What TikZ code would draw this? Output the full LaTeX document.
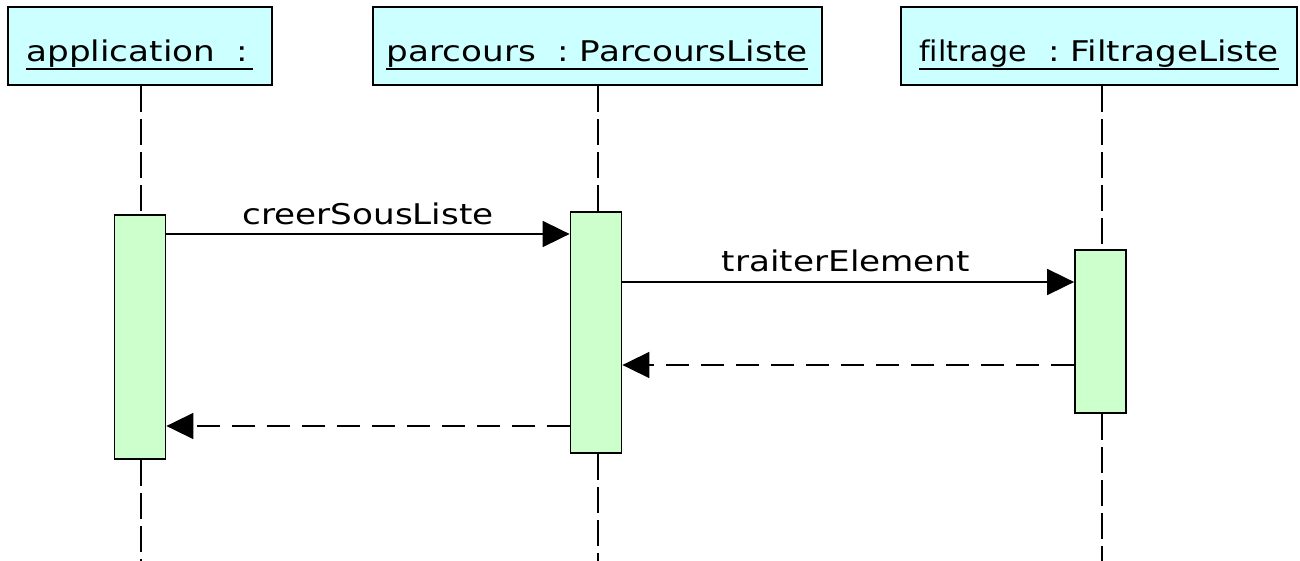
\documentclass[tikz,border=0pt]{standalone}
\usepackage{fontspec}
\setmainfont{DejaVu Sans}[FakeStretch=1.2, Ligatures=NoCommon]
\usetikzlibrary{arrows.meta}
\definecolor{objfill}{HTML}{CCFFFF}
\definecolor{actfill}{HTML}{CCFFCC}
\tikzset{
  objbox/.style={draw=black, fill=objfill, line width=1.8pt, minimum height=78pt, inner sep=0pt},
  objname/.style={anchor=base, inner sep=0pt, font=\fontsize{28.5}{34}\selectfont},
  uline/.style={line width=1.8pt},
  lifeline/.style={line width=1.8pt, dash pattern=on 26pt off 7pt},
  actbox/.style={draw=black, fill=actfill, line width=1.8pt, minimum width=51pt, inner sep=0pt},
  call/.style={line width=1.8pt, -{Triangle[length=27pt, width=26pt]}},
  reply/.style={line width=1.8pt, dash pattern=on 23pt off 12pt, -{Triangle[length=27pt, width=26pt]}},
  msglabel/.style={anchor=base, inner sep=0pt, font=\fontsize{28.5}{34}\selectfont},
}
\begin{document}
\begin{tikzpicture}[x=1pt, y=-1pt]
  \useasboundingbox (0,0) rectangle (1300,561);

  % object heads
  \node[objbox, minimum width=264pt] (app) at (140,46) {};
  \node[objbox, minimum width=449pt] (parc) at (597.5,46) {};
  \node[objbox, minimum width=396pt] (filt) at (1099,46) {};
  \node[objname] (appname)  at (137.5,62) {application\ \ :};
  \node[objname] (parcname) at (597,62)   {parcours\ \ :\ ParcoursListe};
  \node[objname] (filtname) at (1099,62)  {\scalebox{0.88}[1]{filtrage}\ \ :\ FiltrageListe};

  % underlined object names
  \draw[uline] ([yshift=-1pt]appname.south west)  -- ([yshift=-1pt,xshift=4pt]appname.south east);
  \draw[uline] ([yshift=-1pt]parcname.south west) -- ([yshift=-1pt]parcname.south east);
  \draw[uline] ([yshift=-1pt]filtname.south west) -- ([yshift=-1pt]filtname.south east);

  % activations
  \node[actbox, minimum height=244pt] (act1) at (140,337) {};
  \node[actbox, minimum height=241pt] (act2) at (596,332.5) {};
  \node[actbox, minimum height=163pt] (act3) at (1100.5,331.5) {};

  % lifelines, above and below each activation
  \coordinate (append)  at (141,561);
  \coordinate (parcend) at (598,561);
  \coordinate (filtend) at (1102,561);
  \draw[lifeline] (app.south -| append) -- (act1.north -| append);
  \draw[lifeline] (act1.south -| append) -- (append);
  \draw[lifeline] (parc.south -| parcend) -- (act2.north -| parcend);
  \draw[lifeline] (act2.south -| parcend) -- (parcend);
  \draw[lifeline] (filt.south -| filtend) -- (act3.north -| filtend);
  \draw[lifeline] (act3.south -| filtend) -- (filtend);

  % message levels
  \coordinate (m1) at (0,234);
  \coordinate (m2) at (0,282);
  \coordinate (r2) at (0,365);
  \coordinate (r1) at (0,426);

  \draw[call] (act1.east |- m1) -- (act2.west |- m1);
  \node[msglabel] (m1label) at (368,225) {creerSousListe};
  \draw[call] (act2.east |- m2) -- (act3.west |- m2);
  \node[msglabel] (m2label) at (846,272) {traiterElement};
  \draw[reply] (act3.west |- r2) -- (act2.east |- r2);
  \draw[reply] (act2.west |- r1) -- (act1.east |- r1);
\end{tikzpicture}
\end{document}
